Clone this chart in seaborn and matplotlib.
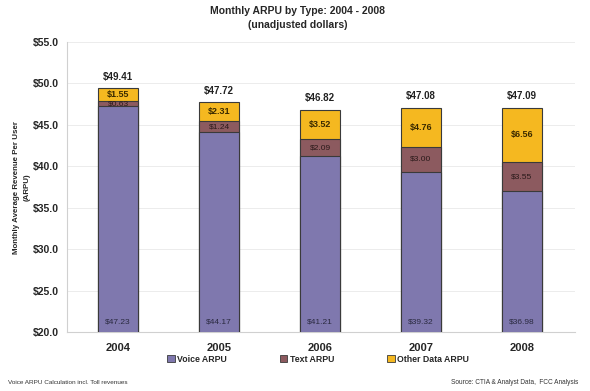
import matplotlib
matplotlib.use("Agg")
import matplotlib.pyplot as plt
import seaborn as sns
import numpy as np
import pandas as pd
from matplotlib.patches import Patch

years = ["2004", "2005", "2006", "2007", "2008"]
voice = [47.23, 44.17, 41.21, 39.32, 36.98]
text = [0.63, 1.24, 2.09, 3.00, 3.55]
other = [1.55, 2.31, 3.52, 4.76, 6.56]
totals = [49.41, 47.72, 46.82, 47.08, 47.09]
series_names = ["Voice ARPU", "Text ARPU", "Other Data ARPU"]
colors = ["#7f78ae", "#8c5a5f", "#f5b820"]

sns.set_style("white")
plt.rcParams["font.family"] = ["Liberation Sans", "DejaVu Sans"]

df = pd.DataFrame({"year": years, "voice": voice, "text": text, "other": other})
df["vt"] = df["voice"] + df["text"]
df["all"] = df["vt"] + df["other"]

fig = plt.figure(figsize=(5.9, 3.91), dpi=100)
ax = fig.add_axes([67 / 590, 1 - 332 / 391, 508 / 590, 290 / 391])

# stacked bars drawn as overlapping cumulative heights, tallest first
for col, c in zip(["all", "vt", "voice"], colors[::-1]):
    sns.barplot(data=df, x="year", y=col, color=c, width=0.4,
                edgecolor="#3a3a3a", linewidth=0.8, saturation=1, ax=ax, zorder=3)

ax.set_ylim(20, 55)
ax.set_xlim(-0.505, 4.525)
ticks = np.arange(20, 55.1, 5)
ax.set_yticks(ticks)
ax.set_yticklabels([f"${t:.1f}" for t in ticks], fontsize=7.5, fontweight="bold")
ax.set_xticks(range(len(years)))
ax.set_xticklabels(years, fontsize=8, fontweight="bold")
ax.tick_params(axis="x", length=0, pad=8)
ax.tick_params(axis="y", length=0, pad=6)
ax.set_xlabel("")
ax.set_ylabel("Monthly Average Revenue Per User\n(ARPU)", fontsize=5.7,
              fontweight="bold", linespacing=1.6)
ax.yaxis.set_label_coords(-0.072, 0.5)
ax.yaxis.grid(True, color="#ececec", linewidth=0.7, zorder=0)
for s in ["top", "right"]:
    ax.spines[s].set_visible(False)
for s in ["left", "bottom"]:
    ax.spines[s].set_color("#d0d0d0")
    ax.spines[s].set_linewidth(0.8)

for i in range(len(years)):
    ax.text(i, 20.8, f"${voice[i]:.2f}", ha="center", va="bottom",
            fontsize=6, color="#2a2a40", zorder=5)
    ax.text(i, voice[i] + text[i] / 2, f"${text[i]:.2f}", ha="center",
            va="center", fontsize=6, color="#2a1a1a", zorder=5)
    ax.text(i, voice[i] + text[i] + other[i] / 2, f"${other[i]:.2f}",
            ha="center", va="center", fontsize=6.5, fontweight="bold",
            color="#3a2a00", zorder=5)
    ax.text(i, totals[i] + 0.8, f"${totals[i]:.2f}", ha="center",
            va="bottom", fontsize=7, fontweight="bold", color="#222222", zorder=5)

fig.text(298 / 590, 0.985, "Monthly ARPU by Type: 2004 - 2008\n(unadjusted dollars)",
         ha="center", va="top", fontsize=7.5, fontweight="bold",
         linespacing=1.5)

handles = [Patch(facecolor=c, edgecolor="#3a3a3a", linewidth=0.6)
           for c in colors]
fig.legend(handles, series_names, loc="center", bbox_to_anchor=(318 / 590, 1 - 359 / 391),
           ncol=3, frameon=False, handlelength=0.9,
           handleheight=0.9, handletextpad=0.3, columnspacing=6.0,
           prop={"weight": "bold", "size": 6.3})

fig.text(8 / 590, 1 - 382 / 391, "Voice ARPU Calculation incl. Toll revenues",
         fontsize=4.6, color="#333333", ha="left", va="center")
fig.text(578 / 590, 1 - 382 / 391, "Source: CTIA & Analyst Data,  FCC Analysis",
         fontsize=4.7, color="#333333", ha="right", va="center")

fig.savefig("out.png", dpi=100)
